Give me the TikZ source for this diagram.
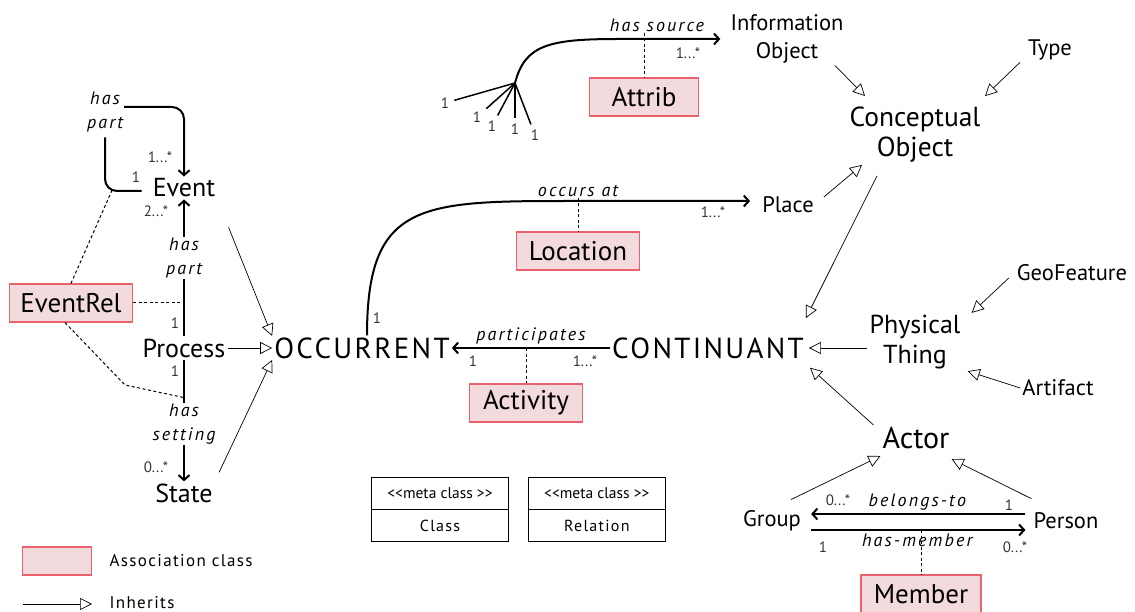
\documentclass[tikz,border=0pt]{standalone}
\usepackage{fontspec}
\setmainfont{PT Sans}
\newfontfamily\spacedfont[LetterSpace=8]{PT Sans}
\newfontfamily\widefont[LetterSpace=12]{PT Sans}
\usetikzlibrary{arrows.meta, positioning}
\definecolor{AssocFill}{RGB}{242,218,221}
\definecolor{AssocLine}{RGB}{236,98,108}
\definecolor{CardGrey}{RGB}{50,50,50}
\newcommand{\stereo}[1]{\textless\kern0pt\textless#1 \textgreater\kern0pt\textgreater}

\begin{document}
\begin{tikzpicture}[x=1pt, y=-1pt,
    concept/.style = {align=center, font=\fontsize{26}{30}\selectfont, inner sep=2pt},
    minor/.style = {concept, font=\fontsize{22.5}{28}\selectfont},
    toplevel/.style = {concept, font=\spacedfont\fontsize{29}{30}\selectfont},
    assoc/.style = {rectangle, draw=AssocLine, fill=AssocFill, line width=1.2pt, minimum height=38pt, inner xsep=6pt, font=\fontsize{27}{28}\selectfont},
    rlabel/.style = {align=center, font=\widefont\itshape\fontsize{18}{24}\selectfont, inner sep=1pt},
    card/.style = {font=\fontsize{15}{15}\selectfont, text=CardGrey, inner sep=5pt},
    rel/.style = {line width=2pt, -{Straight Barb[length=5pt, width=11pt]}},
    bare/.style = {line width=2pt},
    inh/.style = {line width=0.7pt, -{Triangle[open, length=12pt, width=12pt]}},
    link/.style = {line width=1pt, dash pattern=on 3pt off 2.5pt},
    metabox/.style = {draw, line width=0.8pt, minimum width=137pt, minimum height=32pt, font=\fontsize{15.5}{15.5}\selectfont}
]
\useasboundingbox (0,0) rectangle (1135,612);
% Continuants and conceptual objects
\node[minor] (infoobj) at (787,39) {Information\\Object};
\node[minor] (type) at (1050,50) {Type};
\node[concept, font=\fontsize{27.5}{30}\selectfont] (concobj) at (915,135) {Conceptual\\Object};
\node[minor] (place) at (788,205) {Place};
\node[minor] (geo) at (1072,273) {GeoFeature};
\node[concept] (phys) at (915,342) {Physical\\Thing};
\node[minor] (artifact) at (1058,388) {Artifact};
\node[toplevel] (cont) at (708,348) {CONTINUANT};
\node[toplevel] (occ) at (362,348) {OCCURRENT};
\node[concept, font=\fontsize{30}{30}\selectfont] (actor) at (916,438) {Actor};
\node[minor] (group) at (772,521) {Group};
\node[minor] (person) at (1066,521) {Person};
% Occurrents
\node[concept] (event) at (184,188) {Event};
\node[concept] (process) at (184,348) {Process};
\node[concept] (state) at (184,493) {State};
% Association classes
\node[assoc, minimum width=123pt] (eventrel) at (71,303) {EventRel};
\node[assoc, minimum width=123pt] (location) at (578,251) {Location};
\node[assoc, minimum width=113pt] (activity) at (526,403) {Activity};
\node[assoc, minimum width=109pt] (attrib) at (644,97) {Attrib};
\node[assoc, minimum width=120pt] (member) at (921,594) {Member};
% Relation labels
\node[rlabel] (loopl) at (105,112) {has\\part};
\node[rlabel] (haspart) at (184,258) {has\\part};
\node[rlabel] (hassetting) at (184,424) {has\\setting};
\node[rlabel] (occlabel) at (578,191) {occurs at};
\node[rlabel] (srclabel) at (657,25) {has source};

% Event / Process / State
\draw[rel, rounded corners=12pt] ([yshift=5pt]loopl.east) -| (event.north);
\draw[bare, rounded corners=12pt] ([yshift=-4pt]loopl.south) |- ([yshift=-3pt, xshift=-9pt]event.west);
\draw[bare] (process.north) -- (haspart.south);
\draw[rel] (haspart.north) -- (event.south);
\draw[bare] (process.south) -- (hassetting.north);
\draw[rel] (hassetting.south) -- (state.north);
\node[card] at (160,157) {1...*};
\node[card] at (136,177) {1};
\node[card] at (156,211) {2...*};
\node[card] at (175,323) {1};
\node[card] at (175,371) {1};
\node[card] at (156,467) {0...*};
% EventRel links
\coordinate (relbend) at (125,385);
\draw[link] (eventrel.north) -- ([xshift=8pt]loopl.south |- event.west);
\draw[link] (eventrel.east) -- (haspart.south |- eventrel.east);
\draw[link] ([xshift=-6pt]eventrel.south) -- (relbend) -- ([yshift=5pt]hassetting.north);

% Occurrent inheritance
\draw[inh, shorten <=30pt] (event.south east) -- ([yshift=12pt]occ.west);
\draw[inh] (process.east) -- (occ.west);
\draw[inh, shorten <=10pt] (state.north east) -- ([yshift=-12pt]occ.west);

% occurs at
\draw[rel, shorten >=10pt] ([xshift=5pt]occ.north) .. controls +(0,-133) and +(-150,0) .. ([xshift=-190pt, yshift=4pt]place.west) -- ([yshift=4pt]place.west);
\draw[link] (location.north |- occlabel.south) -- (location.north);
\node[card] at (377,318) {1};
\node[card] at (713,212) {1...*};

% participates
\draw[rel] (cont.west) -- node[rlabel, above=2pt] {participates} coordinate[pos=0.55] (partmid) (occ.east);
\draw[link] (activity.north |- partmid) -- (activity.north);
\node[card] at (473,361) {1};
\node[card] at (585,361) {1...*};

% has source
\coordinate (fan) at (515,83);
\draw[rel, shorten >=8pt] (fan) .. controls +(10,-38) and +(-70,0) .. ([xshift=-110pt]infoobj.west) -- (infoobj.west);
\draw[link] (attrib.north |- srclabel.south) -- (attrib.north);
\node[card] at (688,53) {1...*};
\node[card] (src1) at (445,103) {1};
\node[card] (src2) at (477,117) {1};
\node[card] (src3) at (492,126) {1};
\node[card] (src4) at (515,129) {1};
\node[card] (src5) at (535,135) {1};
\foreach \s in {src1, src2, src3, src4, src5}
    \draw[line width=1.5pt] (fan) -- (\s);

% Continuant inheritance
\draw[inh] ([xshift=48pt]infoobj.south) -- ([xshift=-50pt, yshift=9pt]concobj.north);
\draw[inh] ([xshift=-6pt]type.south west) -- ([xshift=70pt, yshift=9pt]concobj.north);
\draw[inh] ([shift={(8pt,8pt)}]place.east) -- ([xshift=-53pt]concobj.south);
\draw[inh] ([xshift=-38pt, yshift=-11pt]concobj.south) -- ([yshift=30pt]cont.east);
\draw[inh] ([shift={(-6pt,-5pt)}]geo.west) -- ([xshift=9pt]phys.north east);
\draw[inh] (phys.west |- cont.east) -- ([xshift=3pt]cont.east);
\draw[inh] (artifact.west) -- ([xshift=5pt]phys.south east);
\draw[inh] ([xshift=-7pt]actor.north west) -- ([xshift=4pt, yshift=-7pt]cont.south east);
\draw[inh] ([xshift=-12pt, yshift=9pt]group.north east) -- ([yshift=-5pt]actor.south west);
\draw[inh] ([yshift=12pt]person.north west) -- ([yshift=-8pt]actor.south east);

% Group / Person
\draw[rel, shorten >=8pt, shorten <=6pt] ([yshift=7pt]person.west) -- node[rlabel, above=2pt] {belongs-to} ([yshift=7pt]group.east);
\draw[rel, shorten >=6pt, shorten <=8pt] ([yshift=-9pt]group.east) -- node[rlabel, below=2pt] {has-member} coordinate[midway] (hmmid) ([yshift=-9pt]person.west);
\draw[link] (member.north |- hmmid) -- (member.north);
\node[card] at (838,500) {0...*};
\node[card] at (1009,505) {1};
\node[card] at (823,547) {1};
\node[card] at (1015,547) {0...*};

% Meta classes
\node[metabox] (clshead) at (440,493) {\stereo{meta class}};
\node[metabox, below=0pt of clshead, font=\spacedfont\fontsize{16}{16}\selectfont] (clsname) {Class};
\node[metabox, right=19pt of clshead] (relhead) {\stereo{meta class}};
\node[metabox, below=0pt of relhead, font=\spacedfont\fontsize{16}{16}\selectfont] (relname) {Relation};

% Legend
\node[assoc, minimum width=69pt, minimum height=28pt] (legbox) at (57,561) {};
\node[anchor=west, font=\spacedfont\fontsize{17}{17}\selectfont] (legassoc) at (106,561) {Association class};
\coordinate (legstart) at (23,604);
\node[anchor=west, font=\spacedfont\fontsize{17}{17}\selectfont] (leginh) at (106,603) {Inherits};
\draw[inh, shorten >=14pt] (legstart) -- (leginh.west |- legstart);
\end{tikzpicture}
\end{document}
